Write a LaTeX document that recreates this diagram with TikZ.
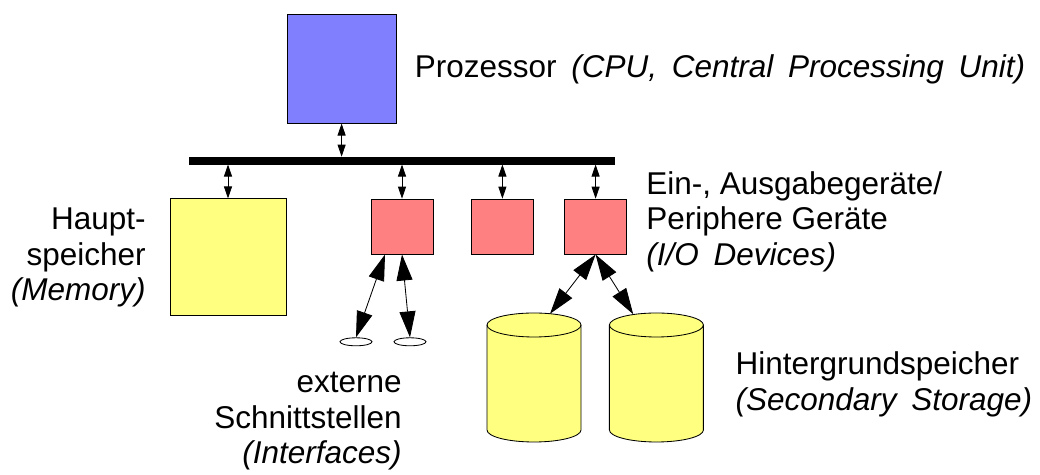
\documentclass[tikz,border=0pt]{standalone}
\usepackage{fontspec}
\setmainfont{Liberation Sans}
\usetikzlibrary{arrows.meta,shapes.geometric}
\definecolor{cpublue}{RGB}{128,128,255}
\definecolor{memyellow}{RGB}{255,255,128}
\definecolor{iored}{RGB}{255,128,128}
\newcommand{\engl}[1]{{\itshape\spaceskip=0.47em\relax#1}}

\begin{document}
\begin{tikzpicture}[line width=0.6pt,
                    box node/.style={rectangle,draw,inner sep=0pt},
                    text node/.style={inner sep=0pt,font=\fontsize{22.4}{25.3}\selectfont},
                    small arrow/.style={<->,>={Triangle[length=0.3cm,width=0.2cm]}},
                    big arrow/.style={<->,>={Triangle[length=0.65cm,width=0.4cm]}}
                   ]
  \useasboundingbox (0,0) rectangle (26,11.875);

  \node[box node,fill=cpublue,minimum width=2.725cm,minimum height=2.725cm] (cpu) at (8.54,10.16) {};
  \node[box node,fill=black,minimum width=10.625cm,minimum height=0.175cm] (bus) at (10.04,7.86) {};
  \node[box node,fill=memyellow,minimum width=2.9cm,minimum height=2.925cm] (mem) at (5.70,5.44) {};
  \node[box node,fill=iored,minimum width=1.55cm,minimum height=1.375cm] (io1) at (10.05,6.21) {};
  \node[box node,fill=iored,minimum width=1.55cm,minimum height=1.375cm] (io2) at (12.56,6.21) {};
  \node[box node,fill=iored,minimum width=1.55cm,minimum height=1.375cm] (io3) at (14.89,6.21) {};
  \node[ellipse,draw,fill=white,inner sep=0pt,minimum width=0.8cm,minimum height=0.2cm] (port1) at (8.90,3.33) {};
  \node[ellipse,draw,fill=white,inner sep=0pt,minimum width=0.8cm,minimum height=0.2cm] (port2) at (10.25,3.33) {};

  % Hintergrundspeicher (Zylinder)
  \foreach \cx in {13.35,16.41} {
    \filldraw[fill=memyellow] (\cx-1.175,3.75) -- (\cx-1.175,1.125)
      arc[start angle=180,end angle=360,x radius=1.175,y radius=0.3] -- (\cx+1.175,3.75)
      arc[start angle=0,end angle=180,x radius=1.175,y radius=0.3] -- cycle;
    \draw (\cx-1.175,3.75) arc[start angle=180,end angle=360,x radius=1.175,y radius=0.3];
  }
  \coordinate (disk1) at (13.75,4.03);
  \coordinate (disk2) at (15.83,4.02);

  \node[text node,anchor=west] (cpulabel) at (10.36,10.13) {Prozessor\engl{ (CPU, Central Processing Unit)}};
  \node[text node,anchor=west,align=left] (iolabel) at (16.15,6.33) {Ein-, Ausgabegeräte/\\Periphere Geräte\\\engl{(I/O Devices)}};
  \node[text node,anchor=east,align=right] (memlabel) at (3.65,5.43) {Haupt-\\speicher\\\engl{(Memory)}};
  \node[text node,anchor=east,align=right] (portlabel) at (10.05,1.34) {externe\\Schnittstellen\\\engl{(Interfaces)}};
  \node[text node,anchor=west,align=left] (disklabel) at (18.38,2.26) {Hintergrundspeicher\\\engl{(Secondary Storage)}};

  \path%
   (cpu.south) edge [small arrow] (cpu.south |- bus.north)
   (mem.north) edge [small arrow] (mem.north |- bus.south)
   (io1.north) edge [small arrow] (io1.north |- bus.south)
   (io2.north) edge [small arrow] (io2.north |- bus.south)
   (io3.north) edge [small arrow] (io3.north |- bus.south)
   ([xshift=-0.425cm]io1.south) edge [big arrow] (port1.north)
   (io1.south) edge [big arrow] (port2.north)
   (io3.south) edge [big arrow] (disk1)
   (io3.south) edge [big arrow] (disk2);
\end{tikzpicture}
\end{document}
